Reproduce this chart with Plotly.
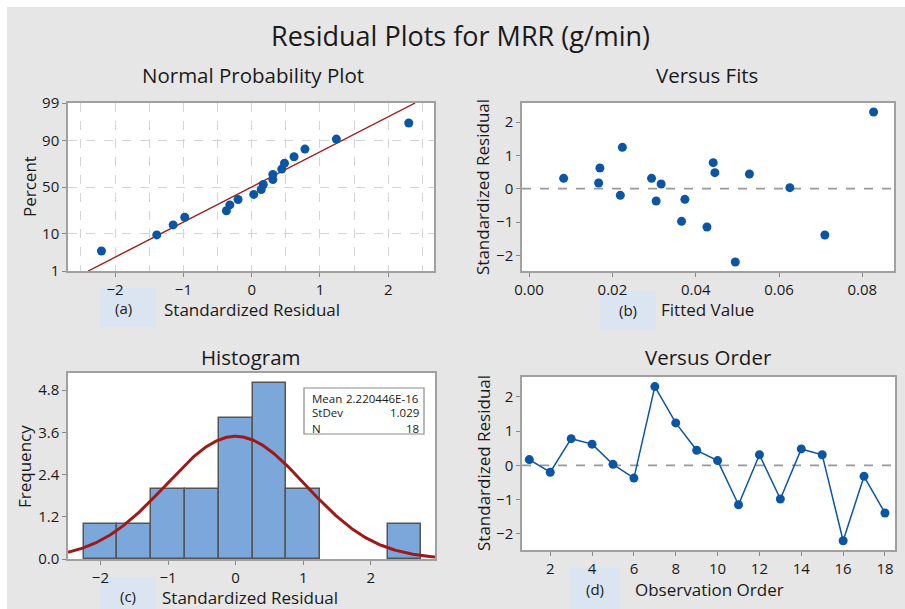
import math
from statistics import NormalDist
import plotly.graph_objects as go

# ---------------- data ----------------
order = list(range(1, 19))
residuals = [0.17, -0.20, 0.78, 0.62, 0.03, -0.37, 2.30, 1.24, 0.44,
             0.14, -1.15, 0.31, -0.98, 0.48, 0.31, -2.20, -0.32, -1.39]
fitted = [0.0167, 0.0219, 0.0442, 0.0170, 0.0626, 0.0305, 0.0827, 0.0224, 0.0529,
          0.0317, 0.0427, 0.0083, 0.0366, 0.0446, 0.0294, 0.0495, 0.0374, 0.0710]
stat_labels = ["Mean", "StDev", "N"]
stat_values = ["2.220446E-16", "1.029", "18"]
stat_mean = 2.220446e-16
stat_sd = 1.029
prob_ticks = [1, 10, 50, 90, 99]
bin_width = 0.5

# ---------------- helpers ----------------
W, H = 905, 609
FONT = "Open Sans"
TXT = "#1a1a1a"
BLUE = "#0b55a3"
RED = "#9e1a1a"
AXC = "#a0a0a0"
TICK = 15

def fx(px):
    return px / W

def fy(py):
    return 1 - py / H

nd = NormalDist()
n = len(residuals)
sorted_res = sorted(residuals)
pcts = [(i + 1 - 0.3) / (n + 0.4) for i in range(n)]
zs = [nd.inv_cdf(p) for p in pcts]
zlo, zhi = nd.inv_cdf(0.01), nd.inv_cdf(0.99)

fig = go.Figure()

# (a) normal probability plot
fig.add_trace(go.Scatter(x=[stat_mean + stat_sd * zlo, stat_mean + stat_sd * zhi], y=[zlo, zhi],
                         mode="lines", line=dict(color=RED, width=1.4),
                         xaxis="x", yaxis="y", showlegend=False, hoverinfo="skip"))
fig.add_trace(go.Scatter(x=sorted_res, y=zs, mode="markers",
                         marker=dict(color=BLUE, size=9),
                         xaxis="x", yaxis="y", showlegend=False))

# (b) versus fits
fig.add_trace(go.Scatter(x=fitted, y=residuals, mode="markers",
                         marker=dict(color=BLUE, size=9),
                         xaxis="x2", yaxis="y2", showlegend=False))

# (c) histogram
fig.add_trace(go.Histogram(x=residuals, xbins=dict(start=-2.25, end=2.75, size=bin_width),
                           marker=dict(color="#7ba7da", line=dict(color="#555555", width=1.5)),
                           xaxis="x3", yaxis="y3", showlegend=False))
cx = [-2.48 + i * (2.95 + 2.48) / 300 for i in range(301)]
cy = [n * bin_width * math.exp(-0.5 * ((v - stat_mean) / stat_sd) ** 2) / (stat_sd * math.sqrt(2 * math.pi))
      for v in cx]
fig.add_trace(go.Scatter(x=cx, y=cy, mode="lines", line=dict(color=RED, width=3),
                         xaxis="x3", yaxis="y3", showlegend=False, hoverinfo="skip"))

# (d) versus order
fig.add_trace(go.Scatter(x=order, y=residuals, mode="lines+markers",
                         line=dict(color=BLUE, width=1.5),
                         marker=dict(color=BLUE, size=9),
                         xaxis="x4", yaxis="y4", showlegend=False))

base_ax = dict(showline=True, mirror=True, linecolor=AXC, linewidth=1.5,
               ticks="outside", ticklen=4, tickcolor="#888888", zeroline=False,
               showgrid=False, automargin=False, tickfont=dict(family=FONT, size=TICK, color=TXT))

fig.update_layout(
    width=W, height=H, margin=dict(l=0, r=0, t=0, b=0, pad=0),
    paper_bgcolor="#e6e6e6", plot_bgcolor="white",
    font=dict(family=FONT, color=TXT),
    bargap=0,
    xaxis=dict(base_ax, domain=[fx(68), fx(434)], anchor="y", range=[-2.69, 2.67],
               dtick=1, tick0=0, showgrid=True, gridcolor="#d4d4d4", griddash="dash",
               minor=dict(dtick=0.5, tick0=0, showgrid=True, gridcolor="#d4d4d4", griddash="dash", ticklen=0)),
    yaxis=dict(base_ax, domain=[fy(271), fy(103)], anchor="x", range=[zlo, zhi],
               tickvals=[nd.inv_cdf(p / 100) for p in prob_ticks], ticktext=[str(p) for p in prob_ticks],
               showgrid=True, gridcolor="#d4d4d4", griddash="dash"),
    xaxis2=dict(base_ax, domain=[fx(522), fx(894)], anchor="y2", range=[-0.0017, 0.0876],
                dtick=0.02, tick0=0, tickformat=".2f"),
    yaxis2=dict(base_ax, domain=[fy(271), fy(103)], anchor="x2", range=[-2.47, 2.57], dtick=1),
    xaxis3=dict(base_ax, domain=[fx(68), fx(435)], anchor="y3", range=[-2.48, 2.95], dtick=1, tick0=0),
    yaxis3=dict(base_ax, domain=[fy(559), fy(373)], anchor="x3", range=[0, 5.29],
                dtick=1.2, tick0=0, tickformat=".1f"),
    xaxis4=dict(base_ax, domain=[fx(522), fx(895)], anchor="y4", range=[0.65, 18.48], dtick=2, tick0=0),
    yaxis4=dict(base_ax, domain=[fy(550), fy(377)], anchor="x4", range=[-2.47, 2.58], dtick=1),
)

shapes = []
# white outer strip (top and left)
shapes.append(dict(type="rect", xref="paper", yref="paper", x0=0, x1=1, y0=fy(7), y1=1,
                   fillcolor="white", line=dict(width=0), layer="below"))
shapes.append(dict(type="rect", xref="paper", yref="paper", x0=0, x1=fx(7), y0=0, y1=1,
                   fillcolor="white", line=dict(width=0), layer="below"))
# zero reference lines
for xr, yr in (("x2 domain", "y2"), ("x4 domain", "y4")):
    shapes.append(dict(type="line", xref=xr, yref=yr, x0=0, x1=1, y0=0, y1=0,
                       line=dict(color="#999999", width=1.6, dash="dash"), layer="below"))
# label boxes
for (x0, x1, y0, y1) in ((100, 156, 288, 327), (600, 656, 291, 330), (100, 156, 577, 610), (570, 620, 568, 610)):
    shapes.append(dict(type="rect", xref="paper", yref="paper", x0=fx(x0), x1=fx(x1), y0=fy(y1), y1=fy(y0),
                       fillcolor="#dbe5f1", line=dict(width=0), layer="below"))
# stats box
shapes.append(dict(type="rect", xref="paper", yref="paper", x0=fx(304), x1=fx(424), y0=fy(434), y1=fy(388),
                   fillcolor="white", line=dict(color="#8a8a8a", width=1.2), layer="above"))
fig.update_layout(shapes=shapes)

ann = []
def text(s, x, y, size, xanchor="center", angle=0):
    ann.append(dict(text=s, x=fx(x), y=fy(y), xref="paper", yref="paper", showarrow=False,
                    xanchor=xanchor, yanchor="middle", textangle=angle,
                    font=dict(family=FONT, size=size, color=TXT)))

text("Residual Plots for MRR (g/min)", 460, 35, 27)
text("Normal Probability Plot", 253, 75, 20.5)
text("Versus Fits", 707, 75, 20.5)
text("Histogram", 251, 357, 20.5)
text("Versus Order", 708, 357, 20.5)

text("Percent", 30, 187, 17, angle=-90)
text("Standardized Residual", 483, 187, 17, angle=-90)
text("Frequency", 25, 467, 17, angle=-90)
text("Standardized Residual", 483, 463, 17, angle=-90)

text("Standardized Residual", 252, 309, 17)
text("Fitted Value", 707, 309, 17)
text("Standardized Residual", 250, 597, 17)
text("Observation Order", 709, 589, 17)

text("(a)", 124, 308, 15)
text("(b)", 628, 310, 15)
text("(c)", 128, 596, 15)
text("(d)", 595, 589, 15)

for i, (lab, val) in enumerate(zip(stat_labels, stat_values)):
    yy = 398 + 15 * i
    text(lab, 310, yy, 11.5, xanchor="left")
    text(val, 421, yy, 11.5, xanchor="right")

fig.update_layout(annotations=ann)
fig.write_html("out.html",
               config={"displayModeBar": False},
               post_script="document.body.style.margin='0';document.body.style.overflow='hidden';")
